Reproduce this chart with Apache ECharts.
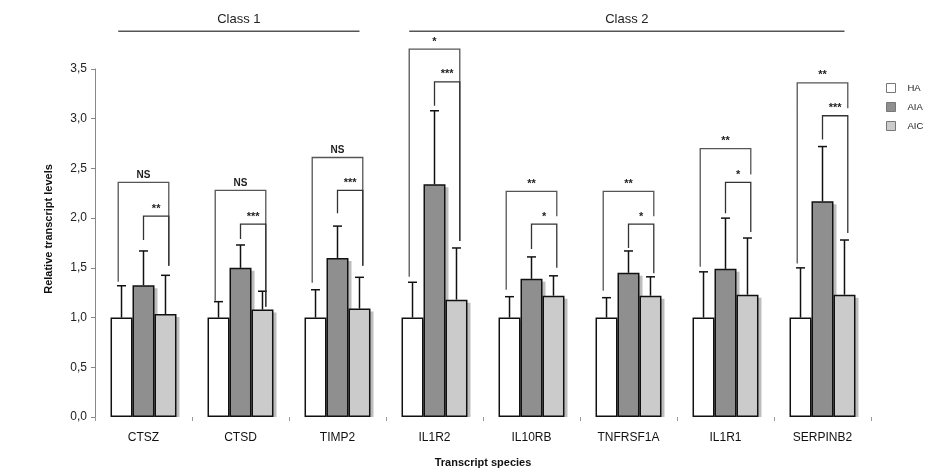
<!DOCTYPE html>
<html><head><meta charset="utf-8">
<script src="https://cdn.jsdelivr.net/npm/echarts@6/dist/echarts.min.js"></script>
<style>html,body{margin:0;padding:0;background:#fff}#c{width:929px;height:473px}</style>
</head><body><div id="c"></div>
<script>
// ---- data ----
const categories = ['CTSZ','CTSD','TIMP2','IL1R2','IL10RB','TNFRSF1A','IL1R1','SERPINB2'];
const seriesNames = ['HA','AIA','AIC'];
const valHA  = [1, 1, 1, 1, 1, 1, 1, 1];
const valAIA = [1.325, 1.50, 1.60, 2.34, 1.39, 1.45, 1.49, 2.17];
const valAIC = [1.035, 1.08, 1.09, 1.18, 1.22, 1.22, 1.23, 1.23];
const errHA  = [1.32, 1.16, 1.28, 1.355, 1.21, 1.20, 1.46, 1.50];
const errAIA = [1.67, 1.73, 1.92, 3.08, 1.61, 1.67, 2.00, 2.72];
const errAIC = [1.425, 1.265, 1.405, 1.70, 1.42, 1.41, 1.80, 1.78];
// significance brackets: HA vs AIC (A) and AIA vs AIC (B)
const bracketATop   = [2.36, 2.28, 2.61, 3.70, 2.27, 2.27, 2.70, 3.36];
const bracketALeft  = [1.36, 1.17, 1.35, 1.41, 1.28, 1.27, 1.51, 1.545];
const bracketARight = [1.52, 1.11, 1.52, 1.77, 2.02, 2.02, 2.44, 3.105];
const bracketALabel = ['NS','NS','NS','*','**','**','**','**'];
const bracketBTop   = [2.02, 1.94, 2.28, 3.37, 1.94, 1.94, 2.36, 3.03];
const bracketBLeft  = [1.78, 1.79, 2.05, 3.13, 1.69, 1.70, 2.05, 2.79];
const bracketBRight = [1.52, 1.11, 1.52, 1.77, 1.50, 1.445, 1.86, 1.85];
const bracketBLabel = ['**','***','***','***','*','*','*','***'];
const classNames = ['Class 1','Class 2'];
const classStart = [0, 3];
const classEnd   = [2, 7];
const yTicks = [0, 0.5, 1, 1.5, 2, 2.5, 3, 3.5];

// ---- rendering ----
const FONT = '"Liberation Sans", Arial, Helvetica, sans-serif';
const GAP = 0.32;
const CLASS_LINE_Y = 3.88;
const CLASS_TEXT_Y = 4.0;
function geom(api, cat) {
  const c = api.coord([cat, 0]);
  const band = api.size([1, 0])[0];
  const bw = band * (1 - GAP) / 3;
  return { x: c[0], bw: bw };
}
const vals = [valHA, valAIA, valAIC];
const errs = [errHA, errAIA, errAIC];
const errData = [];
for (let s = 0; s < 3; s++) for (let i = 0; i < categories.length; i++) errData.push([i, s, vals[s][i], errs[s][i]]);
const brData = categories.map((c, i) => [i, bracketATop[i], bracketALeft[i], bracketARight[i], bracketBTop[i], bracketBLeft[i], bracketBRight[i]]);
const classData = classNames.map((n, i) => [classStart[i], classEnd[i]]);

const colors = ['#ffffff', '#8f8f8f', '#cbcbcb'];
const barSeries = seriesNames.map((n, s) => ({
  name: n, type: 'bar', data: vals[s], barGap: 0, barCategoryGap: (GAP * 100) + '%',
  itemStyle: { color: colors[s], borderColor: '#111', borderWidth: 1.5 },
  emphasis: { disabled: true }, z: 2
}));

const option = {
  animation: false,
  backgroundColor: '#fff',
  grid: { left: 95, right: 58, top: 69, bottom: 56 },
  legend: {
    data: seriesNames, orient: 'vertical', left: 881, top: 78,
    itemWidth: 9, itemHeight: 9, itemGap: 9, icon: 'rect',
    itemStyle: { borderColor: '#777', borderWidth: 1 },
    textStyle: { fontFamily: FONT, fontSize: 9.5, color: '#222', padding: [0, 0, 0, 7] }
  },
  xAxis: {
    type: 'category', data: categories,
    name: 'Transcript species', nameLocation: 'middle', nameGap: 40,
    nameTextStyle: { fontFamily: FONT, fontSize: 11, fontWeight: 'bold', color: '#111' },
    axisLine: { show: false },
    axisTick: { show: true, length: 4, lineStyle: { color: '#999' } },
    axisLabel: { fontFamily: FONT, fontSize: 12, color: '#111', margin: 15 }
  },
  yAxis: {
    type: 'value', min: 0, max: 3.5, interval: 0.5,
    name: 'Relative transcript levels', nameLocation: 'middle', nameGap: 41,
    nameTextStyle: { fontFamily: FONT, fontSize: 11, fontWeight: 'bold', color: '#111', padding: [0, 0, 0, 28] },
    axisLine: { show: true, lineStyle: { color: '#888', width: 1 } },
    axisTick: { show: true, length: 4, lineStyle: { color: '#888' } },
    splitLine: { show: false },
    axisLabel: { fontFamily: FONT, fontSize: 12, color: '#222', margin: 8,
      formatter: v => yTicks.indexOf(v) >= 0 ? v.toFixed(1).replace('.', ',') : '' }
  },
  series: [
    {
      type: 'custom', name: 'shadow', data: errData, z: 1, clip: false, silent: true,
      renderItem: function (params, api) {
        const cat = api.value(0), s = api.value(1);
        const g = geom(api, cat);
        const x = g.x + (s - 1) * g.bw;
        const yb = api.coord([cat, 0])[1];
        const yt = api.coord([cat, api.value(2)])[1];
        return { type: 'rect', shape: { x: x - g.bw / 2 + 3, y: yt + 3, width: g.bw, height: yb - yt - 3 },
          style: { fill: '#bdbdbd' } };
      }
    }
  ].concat(barSeries).concat([
    {
      type: 'custom', name: 'err', data: errData, z: 4, clip: false, silent: true,
      renderItem: function (params, api) {
        const cat = api.value(0), s = api.value(1);
        const g = geom(api, cat);
        const x = g.x + (s - 1) * g.bw;
        const yb = api.coord([cat, api.value(2)])[1];
        const yt = api.coord([cat, api.value(3)])[1];
        const st = { stroke: '#111', lineWidth: 1.5 };
        return { type: 'group', children: [
          { type: 'line', shape: { x1: x, y1: yb, x2: x, y2: yt }, style: st },
          { type: 'line', shape: { x1: x - 4.5, y1: yt, x2: x + 4.5, y2: yt }, style: st }
        ] };
      }
    },
    {
      type: 'custom', name: 'brackets', data: brData, z: 5, clip: false, silent: true,
      renderItem: function (params, api) {
        const i = params.dataIndex;
        const cat = api.value(0);
        const g = geom(api, cat);
        const xHA = g.x - g.bw - 0.15 * g.bw, xAIA = g.x, xAIC = g.x + g.bw + 0.15 * g.bw;
        const y = v => api.coord([cat, v])[1];
        const stA = { stroke: '#555', lineWidth: 1.3, fill: null };
        const stB = { stroke: '#333', lineWidth: 1.3, fill: null };
        const aT = y(api.value(1)), aL = y(api.value(2)), aR = y(api.value(3));
        const bT = y(api.value(4)), bL = y(api.value(5)), bR = y(api.value(6));
        const txt = (label, xc, yTop) => ({ type: 'text', style: {
          text: label, x: xc, y: yTop - 2, align: 'center', verticalAlign: 'bottom',
          font: 'bold ' + (label === 'NS' ? 10 : 11) + 'px ' + FONT, fill: '#222' } });
        return { type: 'group', children: [
          { type: 'polyline', shape: { points: [[xHA, aL], [xHA, aT], [xAIC, aT], [xAIC, aR]] }, style: stA },
          { type: 'polyline', shape: { points: [[xAIA, bL], [xAIA, bT], [xAIC, bT], [xAIC, bR]] }, style: stB },
          txt(bracketALabel[i], (xHA + xAIC) / 2, aT),
          txt(bracketBLabel[i], (xAIA + xAIC) / 2, bT)
        ] };
      }
    },
    {
      type: 'custom', name: 'classes', data: classData, z: 5, clip: false, silent: true,
      renderItem: function (params, api) {
        const i = params.dataIndex;
        const g0 = geom(api, api.value(0)), g1 = geom(api, api.value(1));
        const x0 = g0.x - g0.bw - 0.15 * g0.bw, x1 = g1.x + g1.bw;
        const yl = api.coord([0, CLASS_LINE_Y])[1];
        const yt = api.coord([0, CLASS_TEXT_Y])[1];
        return { type: 'group', children: [
          { type: 'line', shape: { x1: x0, y1: yl, x2: x1, y2: yl }, style: { stroke: '#555', lineWidth: 1.5 } },
          { type: 'text', style: { text: classNames[i], x: (x0 + x1) / 2, y: yt, align: 'center', verticalAlign: 'middle',
            font: '13px ' + FONT, fill: '#222' } }
        ] };
      }
    }
  ])
};
const chart = echarts.init(document.getElementById('c'));
chart.setOption(option);
</script>
</body></html>
